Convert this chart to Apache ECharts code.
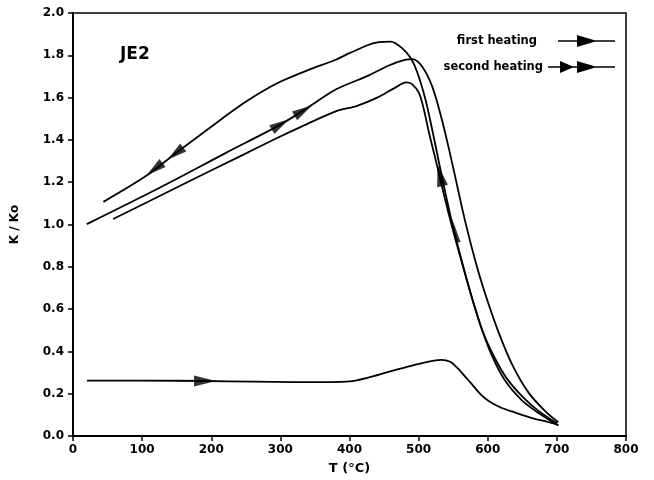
<!DOCTYPE html>
<html>
<head>
<meta charset="utf-8">
<title>JE2 K/Ko vs T</title>
<script src="https://cdn.jsdelivr.net/npm/echarts@6/dist/echarts.min.js"></script>
<style>
  html, body { margin: 0; padding: 0; background: #fff; }
  #chart { width: 654px; height: 480px; }
</style>
</head>
<body>
<div id="chart"></div>
<script>
// Temperature axis ticks (°C) and K/Ko axis ticks
const xTicks = [0, 100, 200, 300, 400, 500, 600, 700, 800];
const yTicks = [0.0, 0.2, 0.4, 0.6, 0.8, 1.0, 1.2, 1.4, 1.6, 1.8, 2.0];

// First cycle: heating (low branch) then cooling back from 700 °C
const firstHeating = [
  [20, 0.262], [100, 0.262], [190, 0.260], [260, 0.257], [320, 0.255],
  [371, 0.255], [400, 0.258], [428, 0.277], [455, 0.302], [481, 0.325],
  [505, 0.345], [520, 0.355], [533, 0.360], [545, 0.352], [556, 0.322],
  [567, 0.282], [577, 0.245], [590, 0.196], [603, 0.162], [618, 0.136],
  [635, 0.116], [664, 0.085], [688, 0.066], [702, 0.053]
];
const firstCooling = [
  [702, 0.050], [673, 0.110], [649, 0.170], [625, 0.262], [606, 0.380],
  [592, 0.500], [577, 0.655], [563, 0.815], [548, 0.994], [536, 1.150],
  [524.5, 1.308], [515, 1.434], [507.6, 1.544], [500.4, 1.622],
  [490, 1.665], [482, 1.672], [465, 1.645], [440, 1.600], [410, 1.560],
  [380, 1.535], [332, 1.465], [296, 1.410], [240, 1.320], [174, 1.214],
  [110, 1.110], [58, 1.026]
];

// Second cycle: heating from room temperature, then cooling from 700 °C
const secondHeating = [
  [20, 1.002], [126, 1.175], [222, 1.340], [296, 1.465], [332, 1.536],
  [380, 1.638], [428, 1.705], [457, 1.752], [480, 1.778], [491, 1.782],
  [505, 1.747], [519.6, 1.653], [531.7, 1.520], [543.7, 1.360],
  [556, 1.180], [567.7, 1.010], [584.4, 0.800], [599, 0.645],
  [615.7, 0.490], [635, 0.340], [659, 0.205], [683, 0.118], [702, 0.065]
];
const secondCooling = [
  [700, 0.060], [673, 0.120], [652, 0.180], [628, 0.270], [610, 0.370],
  [592, 0.500], [577, 0.655], [563, 0.820], [549, 1.000], [538, 1.160],
  [529, 1.300], [519.6, 1.449], [510, 1.590], [498, 1.720],
  [488.5, 1.787], [476, 1.834], [459.6, 1.865], [442.8, 1.862],
  [428, 1.850], [400, 1.810], [380, 1.779], [340, 1.730], [296, 1.669],
  [251, 1.583], [217, 1.504], [150, 1.340], [106, 1.230], [44, 1.107]
];

// Direction arrowheads sitting on the curves: [T, K, rotation in degrees]
const firstCycleArrows = [
  [191, 0.260, -90],
  [531, 1.233, 13]
];
const secondCycleArrows = [
  [118, 1.262, 127.5],
  [148, 1.335, 127.5],
  [300, 1.473, -59],
  [333, 1.538, -59]
];
const faintArrows = [
  [553, 0.970, 14]
];

const FONT = '"DejaVu Sans", "Liberation Sans", Arial, sans-serif';
const curveStyle = { color: '#000', width: 1.8 };

function curve(name, data) {
  return {
    type: 'line', name: name, data: data,
    showSymbol: false, smooth: 0.3,
    lineStyle: curveStyle, itemStyle: { color: '#000' },
    z: 2
  };
}
function arrows(name, list, w, h) {
  return {
    type: 'scatter', name: name,
    symbol: 'triangle', symbolSize: [w, h],
    itemStyle: { color: '#000' },
    data: list.map(a => ({ value: [a[0], a[1]], symbolRotate: a[2] })),
    z: 3
  };
}

// Legend samples: thin line with one / two filled arrowheads
const iconFirst = 'path://M0,5.25 L57,5.25 L57,6.75 L0,6.75 Z M19,0 L39,6 L19,12 Z';
const iconSecond = 'path://M0,5.25 L67,5.25 L67,6.75 L0,6.75 Z M12,0 L26,6 L12,12 Z M29,0 L49,6 L29,12 Z';

const chart = echarts.init(document.getElementById('chart'), null, { renderer: 'canvas' });
chart.setOption({
  animation: false,
  backgroundColor: '#fff',
  title: {
    text: 'JE2', left: 120, top: 46, padding: 0,
    textStyle: { fontFamily: FONT, fontSize: 17, fontWeight: 'bold', color: '#000' }
  },
  legend: [
    {
      data: [{ name: 'first heating', icon: iconFirst }],
      right: 39, top: 35, padding: 0, align: 'right',
      itemWidth: 57, itemHeight: 12, symbolKeepAspect: false,
      selectedMode: false,
      textStyle: { fontFamily: FONT, fontSize: 11.5, fontWeight: 'bold', color: '#000', padding: [0, 16, 0, 0] }
    },
    {
      data: [{ name: 'second heating', icon: iconSecond }],
      right: 39, top: 61, padding: 0, align: 'right',
      itemWidth: 67, itemHeight: 12, symbolKeepAspect: false,
      selectedMode: false,
      textStyle: { fontFamily: FONT, fontSize: 11.5, fontWeight: 'bold', color: '#000' }
    }
  ],
  grid: {
    left: 73, right: 28, top: 13, bottom: 42,
    show: true, borderColor: '#000', borderWidth: 1.5
  },
  xAxis: {
    type: 'value', min: xTicks[0], max: xTicks[xTicks.length - 1], interval: 100,
    name: 'T (°C)', nameLocation: 'middle', nameGap: 26,
    nameTextStyle: { fontFamily: FONT, fontSize: 13, fontWeight: 'bold', color: '#000' },
    axisLine: { show: true, onZero: false, lineStyle: { color: '#000', width: 2 } },
    axisTick: { show: true, inside: false, length: 5, lineStyle: { color: '#000', width: 1.5 } },
    axisLabel: { margin: 8, fontFamily: FONT, fontSize: 12, fontWeight: 'bold', color: '#000' },
    splitLine: { show: false }
  },
  yAxis: {
    type: 'value', min: yTicks[0], max: yTicks[yTicks.length - 1], interval: 0.2,
    name: 'K / Ko', nameLocation: 'middle', nameGap: 52,
    nameTextStyle: { fontFamily: FONT, fontSize: 12, fontWeight: 'bold', color: '#000' },
    axisLine: { show: true, onZero: false, lineStyle: { color: '#000', width: 2 } },
    axisTick: { show: true, inside: false, length: 5, lineStyle: { color: '#000', width: 1.5 } },
    axisLabel: {
      margin: 9, fontFamily: FONT, fontSize: 12, fontWeight: 'bold', color: '#000',
      formatter: v => v.toFixed(1)
    },
    splitLine: { show: false }
  },
  series: [
    curve('first heating', firstHeating),
    curve('first heating', firstCooling),
    curve('second heating', secondHeating),
    curve('second heating', secondCooling),
    arrows('first cycle arrows', firstCycleArrows, 11, 22),
    arrows('second cycle arrows', secondCycleArrows, 10, 20),
    arrows('faint arrows', faintArrows, 5, 24)
  ]
});
</script>
</body>
</html>
